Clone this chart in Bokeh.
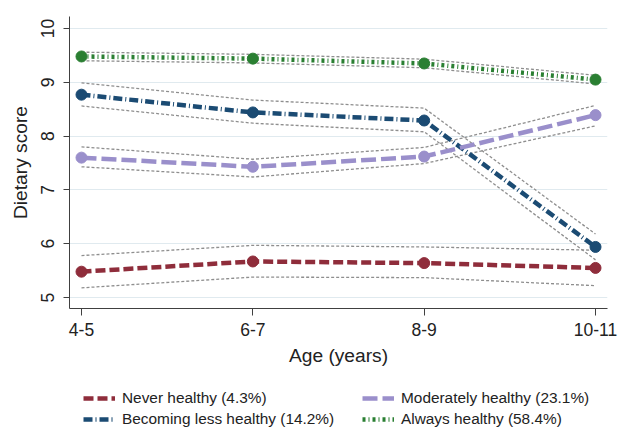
from bokeh.plotting import figure
from bokeh.layouts import column
from bokeh.models import Legend, LegendItem, FixedTicker
from bokeh.embed import file_html
from bokeh.resources import INLINE

# ---- data ----
ages = ["4-5", "6-7", "8-9", "10-11"]
y_ticks = [5, 6, 7, 8, 9, 10]

never = [5.48, 5.67, 5.64, 5.55]
never_lo = [5.18, 5.38, 5.37, 5.22]
never_hi = [5.78, 5.97, 5.94, 5.88]

becoming = [8.77, 8.44, 8.29, 5.94]
becoming_lo = [8.56, 8.24, 8.08, 5.70]
becoming_hi = [8.99, 8.67, 8.52, 6.18]

moderate = [7.60, 7.43, 7.62, 8.39]
moderate_lo = [7.43, 7.24, 7.49, 8.19]
moderate_hi = [7.80, 7.57, 7.79, 8.57]

always = [9.48, 9.44, 9.35, 9.05]
always_lo = [9.40, 9.36, 9.27, 8.97]
always_hi = [9.56, 9.52, 9.43, 9.13]

labels = ["Never healthy (4.3%)", "Becoming less healthy (14.2%)",
          "Moderately healthy (23.1%)", "Always healthy (58.4%)"]

x = list(range(len(ages)))
FONT = "Liberation Sans"

p = figure(frame_width=538, frame_height=292, output_backend="svg",
           toolbar_location=None,
           x_range=(-0.07, 3.07), y_range=(4.796, 10.223),
           min_border_left=69, min_border_right=12, min_border_top=16,
           min_border_bottom=65)
p.outline_line_color = None
p.background_fill_color = "white"

# grid
p.xgrid.grid_line_color = None
p.ygrid.grid_line_color = "#e0eaef"
p.ygrid.grid_line_width = 1.2
p.ygrid.ticker = FixedTicker(ticks=y_ticks)

# axes
p.xaxis.ticker = FixedTicker(ticks=x)
p.xaxis.major_label_overrides = {i: a for i, a in enumerate(ages)}
p.yaxis.ticker = FixedTicker(ticks=y_ticks)
for ax in (p.xaxis[0], p.yaxis[0]):
    ax.axis_line_color = "#404040"
    ax.major_tick_line_color = "#404040"
    ax.minor_tick_line_color = None
    ax.major_tick_in = 0
    ax.major_label_text_font = FONT
    ax.major_label_text_font_size = "17.5px"
    ax.major_label_text_color = "#222222"
    ax.axis_label_text_font = FONT
    ax.axis_label_text_font_size = "19.2px"
    ax.axis_label_text_font_style = "normal"
    ax.axis_label_text_color = "#222222"
p.xaxis.major_tick_out = 7
p.yaxis.major_tick_out = 6
p.xaxis.major_label_standoff = 7
p.yaxis.major_label_standoff = 9
p.yaxis.major_label_orientation = "vertical"
p.xaxis.axis_label = "Age (years)"
p.yaxis.axis_label = "Dietary score"
p.xaxis.axis_label_standoff = 6
p.yaxis.axis_label_standoff = 8

ci_color = "#8e8e8e"
series = [
    (never, never_lo, never_hi, "#8f2d3b", "10 4"),
    (becoming, becoming_lo, becoming_hi, "#1b4b73", "9 3 1 3"),
    (moderate, moderate_lo, moderate_hi, "#9a8fcb", "15 5"),
    (always, always_lo, always_hi, "#2a7f32", "3 3 1 3"),
]

# CI lines
for mid, lo, hi, col, dash in series:
    p.line(x, lo, line_color=ci_color, line_width=1.3, line_dash="3 2")
    p.line(x, hi, line_color=ci_color, line_width=1.3, line_dash="3 2")

for mid, lo, hi, col, dash in series:
    p.line(x, mid, line_color=col, line_width=4.5, line_dash=dash)
    p.scatter(x, mid, size=11, fill_color=col, line_color=col)

# ---- legend strip (separate figure below the chart, frame aligned with chart) ----
lf = figure(width=619, height=55, output_backend="svg", toolbar_location=None,
            x_range=(100, 101), y_range=(100, 101),
            x_axis_location=None, y_axis_location=None,
            min_border_left=0, min_border_right=0, min_border_top=0,
            min_border_bottom=0)
lf.outline_line_color = None
lf.grid.visible = False

items = []
for (mid, lo, hi, col, dash), lab in zip(series, labels):
    # same series lines, kept outside this strip's visible range: only the swatch shows
    r = lf.line(x, mid, line_color=col, line_width=4.5, line_dash=dash)
    items.append(LegendItem(label=lab, renderers=[r]))

legend = Legend(items=items, orientation="vertical", nrows=2,
                location=(14, 0), margin=0, padding=0, spacing=3,
                glyph_width=32, glyph_height=18, label_height=18,
                label_standoff=7, label_width=237,
                label_text_font=FONT, label_text_font_size="15.4px",
                label_text_color="#222222",
                border_line_color=None, background_fill_alpha=0)
lf.add_layout(legend, "center")

layout = column(p, lf, spacing=0)
open("out.html", "w").write(file_html(layout, INLINE))
